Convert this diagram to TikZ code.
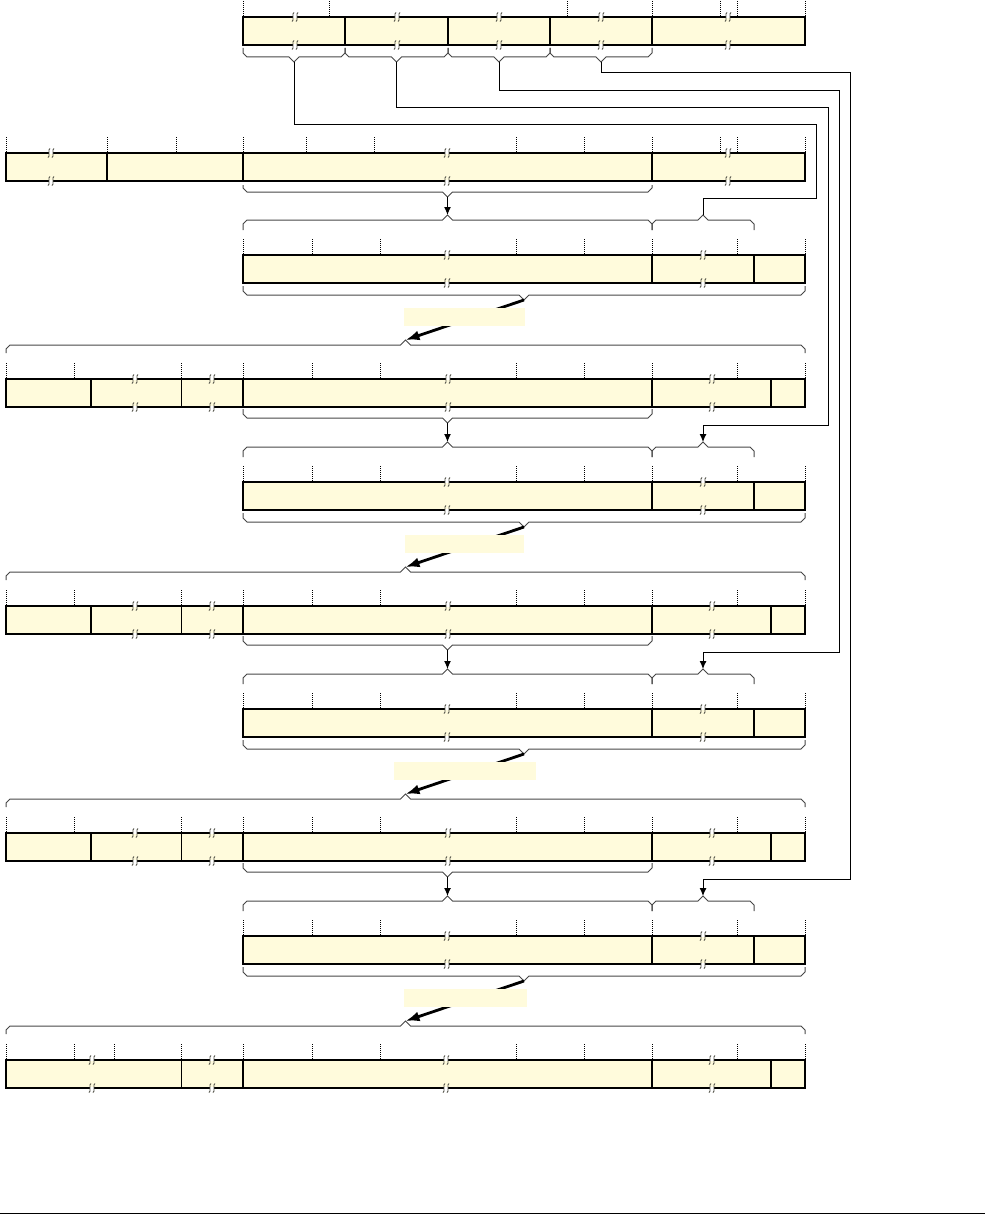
\documentclass[tikz,border=0pt]{standalone}
\usepackage{tikz}
\usetikzlibrary{arrows.meta, calc}

\definecolor{segfill}{RGB}{255,251,220}
\definecolor{bracegray}{RGB}{70,70,70}
\definecolor{breakgray}{RGB}{80,80,70}

\tikzset{
  seg/.style={fill=segfill, draw=none, minimum height=28pt,
    inner sep=0pt, outer sep=0pt, anchor=north west},
  lbl/.style={fill=segfill, draw=none, minimum height=18pt,
    inner sep=0pt, outer sep=0pt, anchor=north west},
  boxline/.style={line width=2pt},
  thickrule/.style={line width=2pt},
  thinrule/.style={line width=1pt},
  tickline/.style={line width=0.8pt, dash pattern=on 1pt off 1pt},
  bracelin/.style={draw=bracegray, line width=1pt},
  breakline/.style={draw=breakgray, line width=0.9pt},
  conn/.style={line width=1pt},
  connarrow/.style={conn, -{Latex[length=8pt,width=7pt]}},
  bigarrow/.style={line width=2.8pt, -{Latex[length=14pt,width=10pt]}}
}

% one row of fields: name, top, last index, xa/xb/rule
\newcommand{\bitrow}[4]{%
  \foreach \xa/\xb/\rl [count=\i] in {#4} {
    \pgfmathsetmacro\segw{\xb-\xa}
    \node[seg, minimum width=\segw pt] (#1\i) at (\xa,#2) {};
    \draw[\rl] (#1\i.north west) -- (#1\i.south west);
  }
  \draw[boxline] (#11.north west) rectangle (#1#3.south east);
}
% dotted bit ticks above a row
\newcommand{\ticks}[2]{%
  \foreach \x in {#2} \draw[tickline] (\x,{#1-16}) -- (\x,#1);
}
% break mark on a line
\newcommand{\brk}[2]{%
  \fill[white] ({#1-1.6},{#2-1.2}) rectangle ({#1+1.6},{#2+1.2});
  \draw[breakline] ({#1-3},{#2+4.5}) .. controls ({#1-0.5},{#2+4.5}) and ({#1-3.5},{#2-4.5}) .. ({#1-1},{#2-4.5});
  \draw[breakline] ({#1+1},{#2+4.5}) .. controls ({#1+3.5},{#2+4.5}) and ({#1+0.5},{#2-4.5}) .. ({#1+3},{#2-4.5});
}
\newcommand{\breaks}[2]{%
  \foreach \x in {#2} {\brk{\x}{#1} \brk{\x}{#1+28}}
}
% brace: x0, x1, end y, main y, direction, tip name
\newcommand{\segbrace}[6]{%
  \draw[bracelin] (#1,{#3}) -- (#1,{#4-4*(#5)}) -- ({#1+4},{#4})
    -- ({(#1+#2)/2-5},{#4}) -- ({(#1+#2)/2},{#4+5*(#5)}) coordinate (#6)
    -- ({(#1+#2)/2+5},{#4}) -- ({#2-4},{#4}) -- (#2,{#4-4*(#5)}) -- (#2,{#3});
}

\begin{document}
\begin{tikzpicture}[x=1pt, y=-1pt]
  \useasboundingbox (0,0) rectangle (985,1215);

  % input row
  \bitrow{a}{17}{5}{243/345/thickrule, 345/448/thickrule, 448/550/thickrule,
    550/652/thickrule, 652/805/thickrule}
  \ticks{17}{243,329,567,652,720,737,805}
  \breaks{17}{295,397,499,601,728}
  \foreach \xa/\xb [count=\i] in {243/345,345/448,448/550,550/652}
    \segbrace{\xa}{\xb}{48}{57}{1}{ta\i};

  % state row
  \bitrow{b}{153}{4}{6/107/thickrule, 107/243/thickrule, 243/652/thickrule,
    652/805/thickrule}
  \ticks{153}{6,107,176,243,306,374,516,584,652,720,737,805}
  \breaks{153}{51,447,728}
  \segbrace{243}{652}{185}{192}{1}{tb}

  % combined rows
  \foreach \k in {0,...,3} {
    \pgfmathsetmacro\yc{255+227*\k}
    \bitrow{c\k}{\yc}{3}{243/652/thickrule, 652/754/thickrule, 754/805/thickrule}
    \ticks{\yc}{243,312,380,516,584,652,737,805}
    \breaks{\yc}{447,703}
    \segbrace{243}{652}{\yc-25}{\yc-35}{-1}{tc\k1}
    \segbrace{652}{754}{\yc-25}{\yc-35}{-1}{tc\k2}
    \segbrace{243}{805}{\yc+31}{\yc+40}{1}{bc\k}
  }

  % shifted rows
  \foreach \k in {0,1,2} {
    \pgfmathsetmacro\yd{379+227*\k}
    \bitrow{d\k}{\yd}{6}{6/91/thickrule, 91/181/thickrule, 181/243/thinrule,
      243/652/thickrule, 652/771/thickrule, 771/805/thickrule}
    \ticks{\yd}{6,74,181,243,312,380,516,584,652,737,805}
    \breaks{\yd}{135,212,448,712}
    \segbrace{243}{652}{\yd+30}{\yd+39}{1}{bd\k}
  }
  \bitrow{j}{1060}{5}{6/181/thickrule, 181/243/thinrule, 243/652/thickrule,
    652/771/thickrule, 771/805/thickrule}
  \ticks{1060}{6,74,114,181,243,312,380,516,584,652,737,805}
  \breaks{1060}{92,212,446,712}
  \foreach \k in {0,...,3}
    \segbrace{6}{805}{379+227*\k-26}{379+227*\k-34}{-1}{td\k};

  % connectors
  \draw[connarrow] (tb) -- (tc01);
  \foreach \k [evaluate=\k as \n using int(\k+1)] in {0,1,2}
    \draw[connarrow] (bd\k) -- (tc\n1);
  \draw[conn] (ta1) |- (816.7,124) -- (816.7,198) -| (tc02);
  \draw[connarrow] (ta2) |- (828,107) -- (828,425) -| (tc12);
  \draw[connarrow] (ta3) |- (839,90) -- (839,652) -| (tc22);
  \draw[connarrow] (ta4) |- (850,73) -- (850,879) -| (tc32);

  % rotations
  \foreach \k/\lx/\lw in {0/404/121, 1/405/119, 2/394/142, 3/404/123} {
    \draw[bigarrow] (bc\k) -- (td\k);
    \node[lbl, minimum width=\lw pt] (lbl\k) at (\lx,{308+227*\k}) {};
  }

  \draw[line width=1.8pt] (0,1213.5) -- (985,1213.5);
\end{tikzpicture}
\end{document}
